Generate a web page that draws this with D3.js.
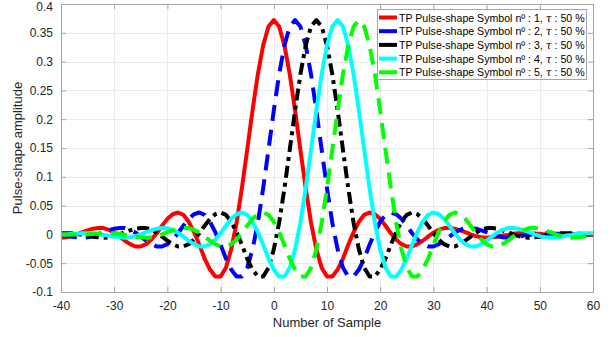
<!DOCTYPE html>
<html>
<head>
<meta charset="utf-8">
<script src="https://cdn.jsdelivr.net/npm/d3@7"></script>
<style>
  body { margin: 0; background: #fff; }
  svg { display: block; font-family: "Liberation Sans", Arial, sans-serif; }
</style>
</head>
<body>
<svg id="chart" width="616" height="337"></svg>
<script>
// sample index axis, -40 .. 60
var samples = d3.range(-40, 61);

var xTicks = [-40, -30, -20, -10, 0, 10, 20, 30, 40, 50, 60];
var xTickLabels = ["-40", "-30", "-20", "-10", "0", "10", "20", "30", "40", "50", "60"];
var yTicks = [-0.1, -0.05, 0, 0.05, 0.1, 0.15, 0.2, 0.25, 0.3, 0.35, 0.4];
var yTickLabels = ["-0.1", "-0.05", "0", "0.05", "0.1", "0.15", "0.2", "0.25", "0.3", "0.35", "0.4"];

var seriesNames = [
  "TP Pulse-shape Symbol nº : 1, ",
  "TP Pulse-shape Symbol nº : 2, ",
  "TP Pulse-shape Symbol nº : 3, ",
  "TP Pulse-shape Symbol nº : 4, ",
  "TP Pulse-shape Symbol nº : 5, "
];

// values, one per sample from -40 to 60
var symbol1 = [
  -0.006,-0.005,-0.003,0.000,0.004,0.007,0.010,0.011,0.011,0.008,
  0.003,-0.004,-0.011,-0.017,-0.021,-0.021,-0.017,-0.009,0.002,0.015,
  0.027,0.035,0.038,0.034,0.022,0.004,-0.018,-0.042,-0.061,-0.073,
  -0.073,-0.058,-0.026,0.020,0.080,0.147,0.215,0.278,0.328,0.361,
  0.372,
  0.361,0.328,0.278,0.215,0.147,0.080,0.020,-0.026,-0.058,-0.073,
  -0.073,-0.061,-0.042,-0.018,0.004,0.022,0.034,0.038,0.035,0.027,
  0.015,0.002,-0.009,-0.017,-0.021,-0.021,-0.017,-0.011,-0.004,0.003,
  0.008,0.011,0.011,0.010,0.007,0.004,0.000,-0.003,-0.005,-0.006,
  -0.005,-0.004,-0.002,-0.001,0.001,0.002,0.002,0.002,0.001,0.001,
  0,0,0,0,0,0,0,0,0,0
];

var symbol2 = [
  -0.001,-0.002,-0.004,-0.005,
  -0.006,-0.005,-0.003,0.000,0.004,0.007,0.010,0.011,0.011,0.008,
  0.003,-0.004,-0.011,-0.017,-0.021,-0.021,-0.017,-0.009,0.002,0.015,
  0.027,0.035,0.038,0.034,0.022,0.004,-0.018,-0.042,-0.061,-0.073,
  -0.073,-0.058,-0.026,0.020,0.080,0.147,0.215,0.278,0.328,0.361,
  0.372,
  0.361,0.328,0.278,0.215,0.147,0.080,0.020,-0.026,-0.058,-0.073,
  -0.073,-0.061,-0.042,-0.018,0.004,0.022,0.034,0.038,0.035,0.027,
  0.015,0.002,-0.009,-0.017,-0.021,-0.021,-0.017,-0.011,-0.004,0.003,
  0.008,0.011,0.011,0.010,0.007,0.004,0.000,-0.003,-0.005,-0.006,
  -0.005,-0.004,-0.002,-0.001,0.001,0.002,0.002,0.002,0.001,0.001,
  0,0,0,0,0,0
];

var symbol3 = [
  0.002,0.002,0.002,0.001,-0.001,-0.002,-0.004,-0.005,
  -0.006,-0.005,-0.003,0.000,0.004,0.007,0.010,0.011,0.011,0.008,
  0.003,-0.004,-0.011,-0.017,-0.021,-0.021,-0.017,-0.009,0.002,0.015,
  0.027,0.035,0.038,0.034,0.022,0.004,-0.018,-0.042,-0.061,-0.073,
  -0.073,-0.058,-0.026,0.020,0.080,0.147,0.215,0.278,0.328,0.361,
  0.372,
  0.361,0.328,0.278,0.215,0.147,0.080,0.020,-0.026,-0.058,-0.073,
  -0.073,-0.061,-0.042,-0.018,0.004,0.022,0.034,0.038,0.035,0.027,
  0.015,0.002,-0.009,-0.017,-0.021,-0.021,-0.017,-0.011,-0.004,0.003,
  0.008,0.011,0.011,0.010,0.007,0.004,0.000,-0.003,-0.005,-0.006,
  -0.005,-0.004,-0.002,-0.001,0.001,0.002,0.002,0.002,0.001,0.001,
  0,0
];

var symbol4 = [
  0,0,
  0.001,0.001,0.002,0.002,0.002,0.001,-0.001,-0.002,-0.004,-0.005,
  -0.006,-0.005,-0.003,0.000,0.004,0.007,0.010,0.011,0.011,0.008,
  0.003,-0.004,-0.011,-0.017,-0.021,-0.021,-0.017,-0.009,0.002,0.015,
  0.027,0.035,0.038,0.034,0.022,0.004,-0.018,-0.042,-0.061,-0.073,
  -0.073,-0.058,-0.026,0.020,0.080,0.147,0.215,0.278,0.328,0.361,
  0.372,
  0.361,0.328,0.278,0.215,0.147,0.080,0.020,-0.026,-0.058,-0.073,
  -0.073,-0.061,-0.042,-0.018,0.004,0.022,0.034,0.038,0.035,0.027,
  0.015,0.002,-0.009,-0.017,-0.021,-0.021,-0.017,-0.011,-0.004,0.003,
  0.008,0.011,0.011,0.010,0.007,0.004,0.000,-0.003,-0.005,-0.006,
  -0.005,-0.004,-0.002,-0.001,0.001,0.002,0.002,0.002
];

var symbol5 = [
  0,0,0,0,0,0,
  0.001,0.001,0.002,0.002,0.002,0.001,-0.001,-0.002,-0.004,-0.005,
  -0.006,-0.005,-0.003,0.000,0.004,0.007,0.010,0.011,0.011,0.008,
  0.003,-0.004,-0.011,-0.017,-0.021,-0.021,-0.017,-0.009,0.002,0.015,
  0.027,0.035,0.038,0.034,0.022,0.004,-0.018,-0.042,-0.061,-0.073,
  -0.073,-0.058,-0.026,0.020,0.080,0.147,0.215,0.278,0.328,0.361,
  0.372,
  0.361,0.328,0.278,0.215,0.147,0.080,0.020,-0.026,-0.058,-0.073,
  -0.073,-0.061,-0.042,-0.018,0.004,0.022,0.034,0.038,0.035,0.027,
  0.015,0.002,-0.009,-0.017,-0.021,-0.021,-0.017,-0.011,-0.004,0.003,
  0.008,0.011,0.011,0.010,0.007,0.004,0.000,-0.003,-0.005,-0.006,
  -0.005,-0.004,-0.002,-0.001
];

var allSeries = [symbol1, symbol2, symbol3, symbol4, symbol5];
var colors = ["#ff0000", "#0000ff", "#000000", "#00ffff", "#00ff00"];
var dashes = [null, "16,9", "12,5,4,5", null, "16,9"];

// plot box (note: "top" is a reserved window name, so use plotTop)
var plotLeft = 61, plotRight = 593, plotTop = 4, plotBottom = 292;
var svg = d3.select('#chart');

var x = d3.scaleLinear().domain([-40, 60]).range([plotLeft, plotRight]);
var y = d3.scaleLinear().domain([-0.1, 0.4]).range([plotBottom, plotTop]);

// grid
var grid = svg.append('g').attr('stroke', '#ebebeb').attr('stroke-width', 1);
grid.selectAll('.gx').data(xTicks.slice(1, -1)).enter().append('line')
  .attr('x1', function(d){ return Math.round(x(d)) + 0.5; }).attr('x2', function(d){ return Math.round(x(d)) + 0.5; })
  .attr('y1', plotTop).attr('y2', plotBottom);
grid.selectAll('.gy').data(yTicks.slice(1, -1)).enter().append('line')
  .attr('y1', function(d){ return Math.round(y(d)) + 0.5; }).attr('y2', function(d){ return Math.round(y(d)) + 0.5; })
  .attr('x1', plotLeft).attr('x2', plotRight);

// curves
var line = d3.line()
  .x(function(d, i){ return x(samples[i]); })
  .y(function(d){ return y(d); });

allSeries.forEach(function(s, k) {
  svg.append('path')
    .attr('d', line(s))
    .attr('fill', 'none')
    .attr('stroke', colors[k])
    .attr('stroke-width', 4)
    .attr('stroke-dasharray', dashes[k])
    .attr('stroke-linejoin', 'round');
});

// axes (box with inward ticks on every side)
var axisColor = '#a6a6a6';
var tl = 5;
function styleAxis(g) {
  g.select('.domain').remove();
  g.selectAll('.tick line').attr('stroke', axisColor);
  g.selectAll('.tick text').attr('fill', '#262626').attr('font-size', '12px')
    .attr('font-family', '"Liberation Sans", Arial, sans-serif');
}
svg.append('g').attr('transform', 'translate(0,' + plotBottom + ')')
  .call(d3.axisBottom(x).tickValues(xTicks).tickSizeInner(-tl).tickSizeOuter(0).tickPadding(9)
    .tickFormat(function(d, i){ return xTickLabels[i]; }))
  .call(styleAxis);
svg.append('g').attr('transform', 'translate(0,' + plotTop + ')')
  .call(d3.axisTop(x).tickValues(xTicks).tickSizeInner(-tl).tickSizeOuter(0).tickFormat(''))
  .call(styleAxis);
var yAxisG = svg.append('g').attr('transform', 'translate(' + plotLeft + ',0)')
  .call(d3.axisLeft(y).tickValues(yTicks).tickSizeInner(-tl).tickSizeOuter(0).tickPadding(8)
    .tickFormat(function(d, i){ return yTickLabels[i]; }))
  .call(styleAxis);
// keep the top label inside the window
yAxisG.selectAll('.tick text').filter(function(d){ return d === 0.4; }).attr('dy', '0.38em').attr('y', 1.5);
svg.append('g').attr('transform', 'translate(' + plotRight + ',0)')
  .call(d3.axisRight(y).tickValues(yTicks).tickSizeInner(-tl).tickSizeOuter(0).tickFormat(''))
  .call(styleAxis);

svg.append('rect')
  .attr('x', plotLeft + 0.5).attr('y', plotTop + 0.5)
  .attr('width', plotRight - plotLeft).attr('height', plotBottom - plotTop)
  .attr('fill', 'none').attr('stroke', axisColor);

// axis labels
svg.append('text')
  .attr('x', (plotLeft + plotRight) / 2).attr('y', 327)
  .attr('text-anchor', 'middle').attr('font-size', '13px').attr('fill', '#262626')
  .text('Number of Sample');
svg.append('text')
  .attr('transform', 'translate(22,' + (plotTop + plotBottom) / 2 + ') rotate(-90)')
  .attr('text-anchor', 'middle').attr('font-size', '13px').attr('fill', '#262626')
  .text('Pulse-shape amplitude');

// legend
var legend = svg.append('g');
legend.append('rect')
  .attr('x', 377.5).attr('y', 9.5).attr('width', 209).attr('height', 70)
  .attr('fill', '#fff').attr('stroke', axisColor);
seriesNames.forEach(function(name, k) {
  var yy = 17.5 + k * 13.7;
  legend.append('line')
    .attr('x1', 379).attr('x2', 397).attr('y1', yy).attr('y2', yy)
    .attr('stroke', colors[k]).attr('stroke-width', 4);
  var t = legend.append('text')
    .attr('x', 399).attr('y', yy + 4)
    .attr('font-size', '10.6px').attr('fill', '#000');
  t.append('tspan').text(name);
  t.append('tspan').attr('font-style', 'italic').attr('font-family', '"DejaVu Serif", serif').text('τ');
  t.append('tspan').text(' : 50 %');
});
</script>
</body>
</html>
